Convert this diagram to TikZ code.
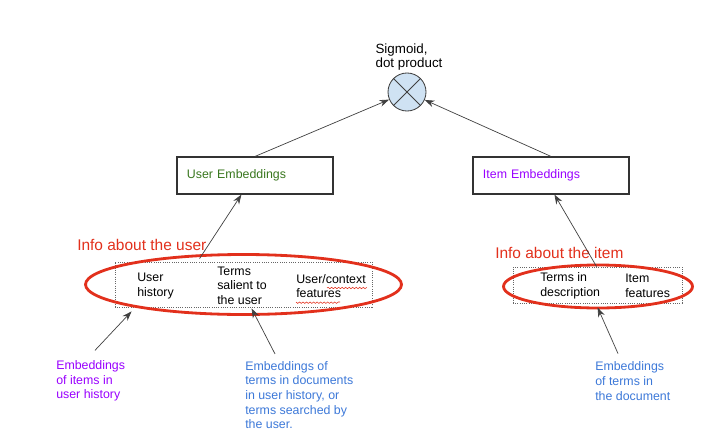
\documentclass[tikz,border=0pt]{standalone}
\usepackage{fontspec}
\setmainfont{Liberation Sans}
\usetikzlibrary{arrows.meta,positioning,calc,decorations.pathmorphing}
\definecolor{embgreen}{RGB}{56,118,29}
\definecolor{embpurple}{RGB}{153,0,255}
\definecolor{embblue}{RGB}{60,120,216}
\definecolor{infored}{RGB}{226,48,28}
\definecolor{sigfill}{RGB}{207,226,243}

\begin{document}
\begin{tikzpicture}[x=0.025cm,y=-0.025cm,>={Stealth[length=2.4mm,width=1.7mm]},
  txt/.style={inner sep=0pt,align=left,font=\fontsize{8.8}{10.4}\selectfont},
  embbox/.style={draw=black!80,line width=0.8pt,minimum width=3.9cm,minimum height=0.925cm,
    inner xsep=0.25cm,text width=3.4cm,align=left,font=\fontsize{8.8}{10.4}\selectfont},
  infobox/.style={draw=black!60,densely dotted,line width=0.6pt,inner sep=0pt},
  info/.style={inner sep=0pt,text=infored,font=\fontsize{11}{13}\selectfont},
  ring/.style={draw=infored,line width=2pt},
  link/.style={->,draw=black!75,line width=0.5pt}]
  \useasboundingbox (0,0) rectangle (720,440);

  % top: sigmoid / dot product
  \node[circle,draw=black!75,fill=sigfill,line width=0.6pt,minimum size=0.95cm,inner sep=0pt] (sig) at (407,92) {};
  \draw[black!75,line width=0.6pt] (sig.north west) -- (sig.south east) (sig.north east) -- (sig.south west);
  \node[txt,font=\fontsize{9.5}{10.6}\selectfont] (siglbl) at (409,57) {Sigmoid,\\dot product};

  % embedding boxes
  \node[embbox,text=embgreen] (uemb) at (255,175.5) {User Embeddings};
  \node[embbox,text=embpurple] (iemb) at (551,175.5) {Item Embeddings};
  \draw[link] (uemb.north) -- (sig);
  \draw[link] (iemb.north) -- (sig);

  % user side
  \node[infobox,minimum width=6.425cm,minimum height=1.125cm] (ubox) at (243.5,284.5) {};
  \draw[ring] (ubox.center) ellipse [x radius=158, y radius=30];
  \node[info,anchor=west] (uinfo) at (77,245) {Info about the user};
  \node[txt,anchor=west] (uhist) at (137,286) {User\\history};
  \node[txt,anchor=west] (uterms) at (217,285.5) {Terms\\salient to\\the user};
  \node[txt,anchor=west] (uctx) at (296,286) {User/context\\features};
  \draw[infored,line width=0.4pt,decorate,decoration={snake,amplitude=0.5pt,segment length=2.5pt}]
    (327,288) -- (366,288) (296,302) -- (340,302);
  \draw[link] ($(ubox.north west)+(85,-3)$) -- ($(uemb.south west)+(65,0)$);

  % item side
  \node[infobox,minimum width=4.225cm,minimum height=0.9cm] (ibox) at (597.5,285) {};
  \draw[ring] ($(ibox.center)+(0.5,1.5)$) ellipse [x radius=94.5, y radius=21.5];
  \node[info,anchor=west] (iinfo) at (495,253) {Info about the item};
  \node[txt,anchor=west] (iterms) at (540,286) {Terms in\\description};
  \node[txt,anchor=west] (ifeat) at (625,286) {Item\\features};
  \draw[link] ($(ibox.north west)+(84,0)$) -- ($(iemb.south west)+(82,0)$);

  % where the embeddings come from
  \node[txt,anchor=west,text=embpurple] (uhistemb) at (56,381) {Embeddings\\of items in\\user history};
  \node[txt,anchor=west,text=embblue] (utermemb) at (245,395) {Embeddings of\\terms in documents\\in user history, or\\terms searched by\\the user.};
  \node[txt,anchor=west,text=embblue] (idocemb) at (595,381) {Embeddings\\of terms in\\the document};
  \draw[link] ($(uhistemb.north west)+(39,-10)$) -- ($(ubox.south west)+(17,4)$);
  \draw[link] ($(utermemb.north west)+(30,-7)$) -- ($(ubox.south west)+(137,1)$);
  \draw[link] ($(idocemb.north west)+(23,-8)$) -- ($(ibox.south west)+(85,4)$);
\end{tikzpicture}
\end{document}
